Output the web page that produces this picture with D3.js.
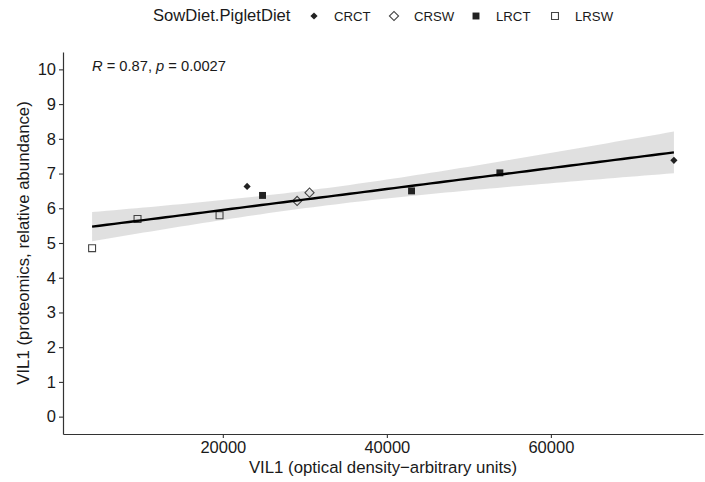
<!DOCTYPE html>
<html>
<head>
<meta charset="utf-8">
<script src="https://cdn.jsdelivr.net/npm/d3@7"></script>
<style>
  body { margin: 0; background: #fff; }
  svg { display: block; font-family: "Liberation Sans", Arial, sans-serif; }
</style>
</head>
<body>
<div id="chart"></div>
<script>
// data
var groups = ["CRCT", "CRSW", "LRCT", "LRSW"]
var sampleGroup = ["LRSW", "LRSW", "LRSW", "CRCT", "LRCT", "CRSW", "CRSW", "LRCT", "LRCT", "CRCT"]
var opticalDensity = [4060, 9600, 19600, 22960, 24840, 29060, 30570, 43010, 53780, 75000]
var proteomics = [4.85, 5.69, 5.80, 6.63, 6.37, 6.21, 6.45, 6.50, 7.02, 7.38]
var xTicks = [20000, 40000, 60000]
var yTicks = [0, 1, 2, 3, 4, 5, 6, 7, 8, 9, 10]
var statR = "0.87", statP = "0.0027"

var W = 705, H = 482
var m = { left: 63, right: 2, top: 52, bottom: 48 }

var svg = d3.select("#chart").append("svg").attr("width", W).attr("height", H)

var xExt = d3.extent(opticalDensity)
var xPad = (xExt[1] - xExt[0]) * 0.05
var x = d3.scaleLinear().domain([xExt[0] - xPad, xExt[1] + xPad]).range([m.left, W - m.right])
var y = d3.scaleLinear().domain([-0.5, 10.5]).range([H - m.bottom, m.top])

/* linear fit + 95% confidence band */
var n = opticalDensity.length
var mx = d3.mean(opticalDensity), my = d3.mean(proteomics)
var sxx = 0, sxy = 0, syy = 0
for (var i = 0; i < n; i++) {
  var dx = opticalDensity[i] - mx, dy = proteomics[i] - my
  sxx += dx * dx; sxy += dx * dy; syy += dy * dy
}
var slope = sxy / sxx, icpt = my - slope * mx
var s = Math.sqrt((syy - sxy * sxy / sxx) / (n - 2))
var tq = 2.306 // t(0.975, df = 8)
var fit = d3.range(80).map(function (k) {
  var xv = xExt[0] + (xExt[1] - xExt[0]) * k / 79
  var yv = icpt + slope * xv
  var se = s * Math.sqrt(1 / n + (xv - mx) * (xv - mx) / sxx)
  return { x: xv, y: yv, lo: yv - tq * se, hi: yv + tq * se }
})

svg.append("path").datum(fit)
    .attr("fill", "#999999").attr("fill-opacity", 0.3)
    .attr("d", d3.area().x(function (d) { return x(d.x) })
        .y0(function (d) { return y(d.lo) }).y1(function (d) { return y(d.hi) }))

/* points */
var shape = {
  CRCT: { type: d3.symbolSquare, size: 26, rot: 45, fill: true },
  CRSW: { type: d3.symbolSquare, size: 42, rot: 45, fill: false },
  LRCT: { type: d3.symbolSquare, size: 48, rot: 0, fill: true },
  LRSW: { type: d3.symbolSquare, size: 48, rot: 0, fill: false }
}
var drawShape = function (sel, g) {
  var sh = shape[g]
  sel.attr("d", d3.symbol().type(sh.type).size(sh.size)())
      .attr("fill", sh.fill ? "#222" : "none")
      .attr("stroke", sh.fill ? "none" : "#444")
      .attr("stroke-width", 1.1)
}

svg.selectAll("path.pt").data(d3.range(n)).enter().append("path")
    .attr("class", "pt")
    .each(function (i) { drawShape(d3.select(this), sampleGroup[i]) })
    .attr("transform", function (i) {
      return "translate(" + x(opticalDensity[i]) + "," + y(proteomics[i]) + ") rotate(" + shape[sampleGroup[i]].rot + ")"
    })

svg.append("path").datum(fit)
    .attr("fill", "none").attr("stroke", "#000").attr("stroke-width", 2.4)
    .attr("d", d3.line().x(function (d) { return x(d.x) }).y(function (d) { return y(d.y) }))

/* axes */
var xAxis = svg.append("g").attr("transform", "translate(0," + (H - m.bottom) + ")")
    .call(d3.axisBottom(x).tickValues(xTicks).tickFormat(d3.format("d")).tickSize(4).tickPadding(3).tickSizeOuter(0))
var yAxis = svg.append("g").attr("transform", "translate(" + m.left + ",0)")
    .call(d3.axisLeft(y).tickValues(yTicks).tickSize(4).tickPadding(3).tickSizeOuter(0))
;[xAxis, yAxis].forEach(function (a) {
  a.select(".domain").attr("stroke", "#333").attr("stroke-width", 1.2)
  a.selectAll(".tick line").attr("stroke", "#333").attr("stroke-width", 1.1)
  a.selectAll(".tick text").attr("fill", "#1a1a1a").style("font-size", "16.5px")
})

svg.append("text").attr("x", (m.left + W - m.right) / 2).attr("y", 473)
    .attr("text-anchor", "middle").attr("fill", "#1a1a1a").style("font-size", "16.8px")
    .text("VIL1 (optical density\u2212arbitrary units)")
svg.append("text").attr("transform", "translate(29," + (m.top + H - m.bottom) / 2 + ") rotate(-90)")
    .attr("text-anchor", "middle").attr("fill", "#1a1a1a").style("font-size", "16.8px")
    .text("VIL1 (proteomics, relative abundance)")

/* stats label */
var st = svg.append("text").attr("x", 92).attr("y", 71).attr("fill", "#1a1a1a").style("font-size", "14.7px")
st.append("tspan").style("font-style", "italic").text("R")
st.append("tspan").text(" = " + statR + ", ")
st.append("tspan").style("font-style", "italic").text("p")
st.append("tspan").text(" = " + statP)

/* legend */
var lg = svg.append("g")
lg.append("text").attr("x", 153).attr("y", 21).attr("fill", "#1a1a1a").style("font-size", "16.6px").text("SowDiet.PigletDiet")
var legKeyX = [314, 394, 476, 555]
groups.forEach(function (g, k) {
  lg.append("path").call(drawShape, g)
      .attr("transform", "translate(" + legKeyX[k] + ",16) rotate(" + shape[g].rot + ")")
  lg.append("text").attr("x", legKeyX[k] + 20).attr("y", 20.5).attr("fill", "#1a1a1a")
      .style("font-size", "13.2px").text(g)
})
</script>
</body>
</html>
